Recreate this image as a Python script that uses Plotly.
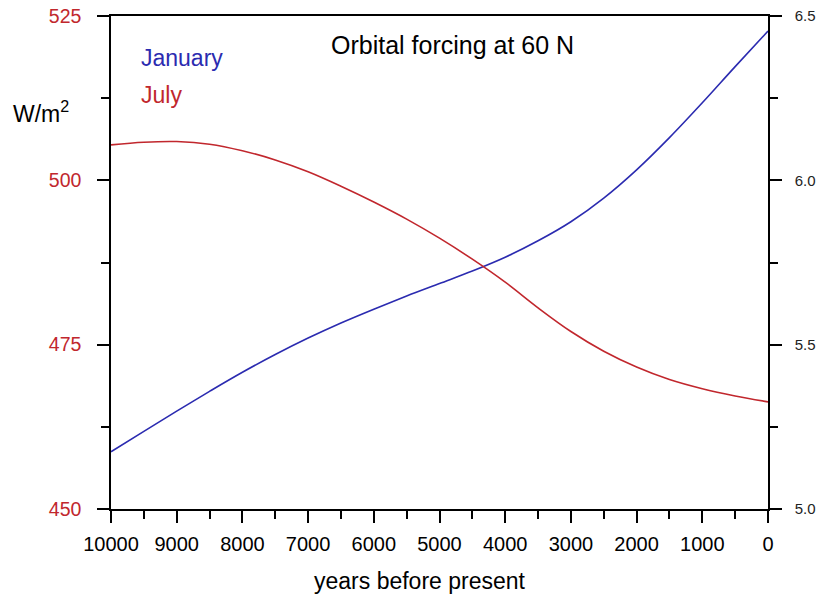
import plotly.graph_objects as go

# Insolation at 60 N over the last 10,000 years (W/m^2)
years = [10000, 9500, 9000, 8500, 8000, 7500, 7000, 6500, 6000, 5500, 5000,
         4500, 4000, 3500, 3000, 2500, 2000, 1500, 1000, 500, 0]
january = [458.7, 461.8, 464.9, 467.9, 470.8, 473.5, 476.0, 478.3, 480.4, 482.4, 484.3,
           486.2, 488.3, 490.8, 493.7, 497.3, 501.6, 506.5, 511.8, 517.3, 522.7]
july = [505.4, 505.8, 505.9, 505.5, 504.5, 503.1, 501.3, 499.1, 496.7, 494.1, 491.2,
        488.0, 484.5, 480.6, 477.0, 474.0, 471.6, 469.7, 468.3, 467.2, 466.3]

left_ticks = [450, 475, 500, 525]
right_ticks = [5.0, 5.5, 6.0, 6.5]
right_labels = ["5.0", "5.5", "6.0", "6.5"]
x_ticks = [10000, 9000, 8000, 7000, 6000, 5000, 4000, 3000, 2000, 1000, 0]

BLUE = "#2b2bb0"
RED = "#c1272d"
FONT = "Liberation Sans, Arial, sans-serif"

W, H = 820, 599
L, R, T, B = 111, 52, 16, 90
pw, ph = W - L - R, H - T - B


def px(x):
    return (x - L) / pw


def py(y):
    return (H - B - y) / ph


fig = go.Figure()
fig.add_trace(go.Scatter(x=years, y=january, mode="lines", name="January",
                         line=dict(color=BLUE, width=1.6, shape="spline")))
fig.add_trace(go.Scatter(x=years, y=july, mode="lines", name="July",
                         line=dict(color=RED, width=1.6, shape="spline")))
# invisible trace so the right-hand axis is drawn
fig.add_trace(go.Scatter(x=[None], y=[None], yaxis="y2", showlegend=False, hoverinfo="skip"))

tick_style = dict(ticks="outside", ticklen=12, tickwidth=1.5, tickcolor="black")
minor_style = dict(ticks="outside", ticklen=8, tickwidth=1.5, tickcolor="black", showgrid=False)

fig.update_layout(
    width=W, height=H,
    margin=dict(l=L, r=R, t=T, b=B),
    paper_bgcolor="white", plot_bgcolor="white",
    showlegend=False,
    font=dict(family=FONT, color="black"),
    xaxis=dict(
        range=[10000, 0], showgrid=False, zeroline=False, automargin=False,
        showline=True, linecolor="black", linewidth=1.5, mirror=True,
        tickvals=x_ticks, ticktext=[str(v) for v in x_ticks],
        tickfont=dict(size=20, color="black"), ticklabelstandoff=4,
        minor=dict(dtick=500, **minor_style), **tick_style,
    ),
    yaxis=dict(
        range=[450, 525], showgrid=False, zeroline=False, automargin=False,
        showline=True, linecolor="black", linewidth=1.5,
        tickvals=left_ticks, tickfont=dict(size=19.5, color=RED), ticklabelstandoff=12,
        minor=dict(dtick=12.5, tick0=450, **minor_style), **tick_style,
    ),
    yaxis2=dict(
        range=[5.0, 6.5], overlaying="y", side="right", showgrid=False, zeroline=False,
        automargin=False, showline=True, linecolor="black", linewidth=1.5,
        tickvals=right_ticks, ticktext=right_labels,
        tickfont=dict(size=15, color="#222222"), ticklabelstandoff=10,
        minor=dict(dtick=0.25, tick0=5.0, **minor_style), **tick_style,
    ),
    annotations=[
        dict(text="Orbital forcing at 60 N", x=px(452), y=py(45), xref="paper", yref="paper",
             showarrow=False, font=dict(size=25, color="black"), xanchor="center", yanchor="middle"),
        dict(text="January", x=px(139), y=py(58), xref="paper", yref="paper",
             showarrow=False, font=dict(size=23, color=BLUE), xanchor="left", yanchor="middle"),
        dict(text="July", x=px(139), y=py(95), xref="paper", yref="paper",
             showarrow=False, font=dict(size=23, color=RED), xanchor="left", yanchor="middle"),
        dict(text="W/m<sup>2</sup>", x=px(11), y=py(112), xref="paper", yref="paper",
             showarrow=False, font=dict(size=23, color="black"), xanchor="left", yanchor="middle"),
        dict(text="years before present", x=px(420), y=py(581), xref="paper", yref="paper",
             showarrow=False, font=dict(size=23, color="black"), xanchor="center", yanchor="middle"),
    ],
)

fig.write_html("out.html")
